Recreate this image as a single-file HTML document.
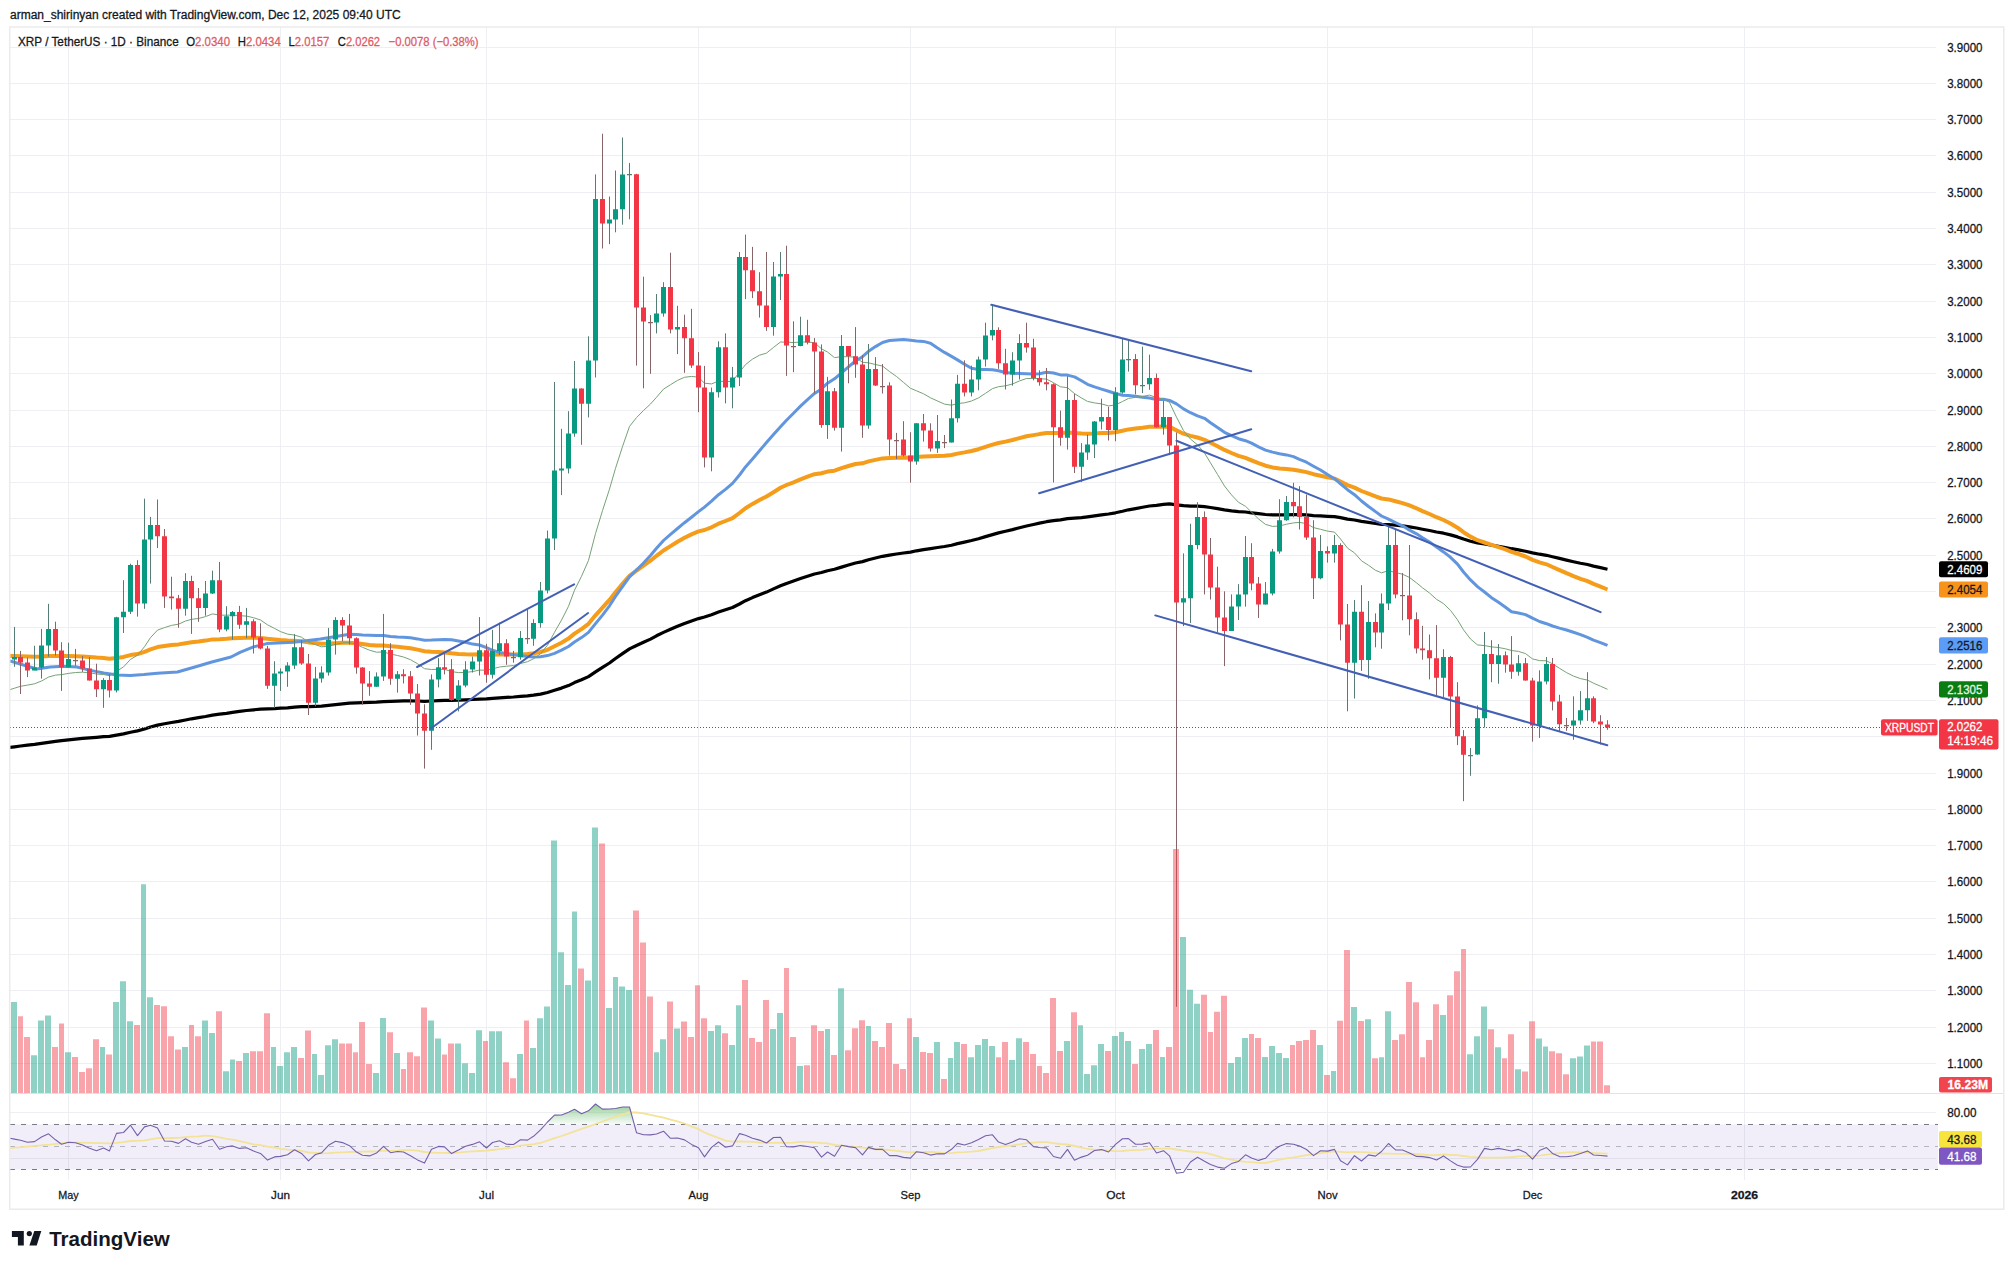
<!DOCTYPE html>
<html><head><meta charset="utf-8"><style>
html,body{margin:0;padding:0;background:#fff;}
body{width:2014px;height:1269px;overflow:hidden;font-family:"Liberation Sans",sans-serif;}
svg{display:block;}
</style></head><body>
<svg width="2014" height="1269" viewBox="0 0 2014 1269" font-family="Liberation Sans, sans-serif">
<defs><clipPath id="plot"><rect x="10" y="27" width="1926" height="1066"/></clipPath><clipPath id="rsiclip"><rect x="10" y="1094" width="1926" height="86"/></clipPath><linearGradient id="ob" x1="0" y1="1100" x2="0" y2="1124.5" gradientUnits="userSpaceOnUse"><stop offset="0" stop-color="#7cc47f" stop-opacity="0.95"/><stop offset="1" stop-color="#7cc47f" stop-opacity="0.05"/></linearGradient></defs>
<rect width="2014" height="1269" fill="#ffffff"/>
<text x="10" y="18.8" font-size="12" fill="#131722" stroke="#131722" stroke-width="0.28">arman_shirinyan created with TradingView.com, Dec 12, 2025 09:40 UTC</text>
<path d="M10 47.5H1936 M10 83.5H1936 M10 119.5H1936 M10 155.5H1936 M10 192.5H1936 M10 228.5H1936 M10 264.5H1936 M10 301.5H1936 M10 337.5H1936 M10 373.5H1936 M10 410.5H1936 M10 446.5H1936 M10 482.5H1936 M10 518.5H1936 M10 555.5H1936 M10 591.5H1936 M10 627.5H1936 M10 664.5H1936 M10 700.5H1936 M10 736.5H1936 M10 773.5H1936 M10 809.5H1936 M10 845.5H1936 M10 881.5H1936 M10 918.5H1936 M10 954.5H1936 M10 990.5H1936 M10 1027.5H1936 M10 1063.5H1936 M10 1112.5H1936 M10 1158.5H1936 M68.5 26.5V1180 M280.5 26.5V1180 M486.5 26.5V1180 M698.5 26.5V1180 M910.5 26.5V1180 M1115.5 26.5V1180 M1327.5 26.5V1180 M1532.5 26.5V1180 M1744.5 26.5V1180" stroke="#eeeff2" stroke-width="1" fill="none"/>
<text x="1947.2" y="51.5" font-size="12.6" fill="#131722" stroke="#131722" stroke-width="0.28" textLength="35.3" lengthAdjust="spacingAndGlyphs">3.9000</text>
<text x="1947.2" y="87.5" font-size="12.6" fill="#131722" stroke="#131722" stroke-width="0.28" textLength="35.3" lengthAdjust="spacingAndGlyphs">3.8000</text>
<text x="1947.2" y="123.5" font-size="12.6" fill="#131722" stroke="#131722" stroke-width="0.28" textLength="35.3" lengthAdjust="spacingAndGlyphs">3.7000</text>
<text x="1947.2" y="159.5" font-size="12.6" fill="#131722" stroke="#131722" stroke-width="0.28" textLength="35.3" lengthAdjust="spacingAndGlyphs">3.6000</text>
<text x="1947.2" y="196.5" font-size="12.6" fill="#131722" stroke="#131722" stroke-width="0.28" textLength="35.3" lengthAdjust="spacingAndGlyphs">3.5000</text>
<text x="1947.2" y="232.5" font-size="12.6" fill="#131722" stroke="#131722" stroke-width="0.28" textLength="35.3" lengthAdjust="spacingAndGlyphs">3.4000</text>
<text x="1947.2" y="268.5" font-size="12.6" fill="#131722" stroke="#131722" stroke-width="0.28" textLength="35.3" lengthAdjust="spacingAndGlyphs">3.3000</text>
<text x="1947.2" y="305.5" font-size="12.6" fill="#131722" stroke="#131722" stroke-width="0.28" textLength="35.3" lengthAdjust="spacingAndGlyphs">3.2000</text>
<text x="1947.2" y="341.5" font-size="12.6" fill="#131722" stroke="#131722" stroke-width="0.28" textLength="35.3" lengthAdjust="spacingAndGlyphs">3.1000</text>
<text x="1947.2" y="377.5" font-size="12.6" fill="#131722" stroke="#131722" stroke-width="0.28" textLength="35.3" lengthAdjust="spacingAndGlyphs">3.0000</text>
<text x="1947.2" y="414.5" font-size="12.6" fill="#131722" stroke="#131722" stroke-width="0.28" textLength="35.3" lengthAdjust="spacingAndGlyphs">2.9000</text>
<text x="1947.2" y="450.5" font-size="12.6" fill="#131722" stroke="#131722" stroke-width="0.28" textLength="35.3" lengthAdjust="spacingAndGlyphs">2.8000</text>
<text x="1947.2" y="486.5" font-size="12.6" fill="#131722" stroke="#131722" stroke-width="0.28" textLength="35.3" lengthAdjust="spacingAndGlyphs">2.7000</text>
<text x="1947.2" y="522.5" font-size="12.6" fill="#131722" stroke="#131722" stroke-width="0.28" textLength="35.3" lengthAdjust="spacingAndGlyphs">2.6000</text>
<text x="1947.2" y="559.5" font-size="12.6" fill="#131722" stroke="#131722" stroke-width="0.28" textLength="35.3" lengthAdjust="spacingAndGlyphs">2.5000</text>
<text x="1947.2" y="595.5" font-size="12.6" fill="#131722" stroke="#131722" stroke-width="0.28" textLength="35.3" lengthAdjust="spacingAndGlyphs">2.4000</text>
<text x="1947.2" y="631.5" font-size="12.6" fill="#131722" stroke="#131722" stroke-width="0.28" textLength="35.3" lengthAdjust="spacingAndGlyphs">2.3000</text>
<text x="1947.2" y="668.5" font-size="12.6" fill="#131722" stroke="#131722" stroke-width="0.28" textLength="35.3" lengthAdjust="spacingAndGlyphs">2.2000</text>
<text x="1947.2" y="704.5" font-size="12.6" fill="#131722" stroke="#131722" stroke-width="0.28" textLength="35.3" lengthAdjust="spacingAndGlyphs">2.1000</text>
<text x="1947.2" y="740.5" font-size="12.6" fill="#131722" stroke="#131722" stroke-width="0.28" textLength="35.3" lengthAdjust="spacingAndGlyphs">2.0000</text>
<text x="1947.2" y="777.5" font-size="12.6" fill="#131722" stroke="#131722" stroke-width="0.28" textLength="35.3" lengthAdjust="spacingAndGlyphs">1.9000</text>
<text x="1947.2" y="813.5" font-size="12.6" fill="#131722" stroke="#131722" stroke-width="0.28" textLength="35.3" lengthAdjust="spacingAndGlyphs">1.8000</text>
<text x="1947.2" y="849.5" font-size="12.6" fill="#131722" stroke="#131722" stroke-width="0.28" textLength="35.3" lengthAdjust="spacingAndGlyphs">1.7000</text>
<text x="1947.2" y="885.5" font-size="12.6" fill="#131722" stroke="#131722" stroke-width="0.28" textLength="35.3" lengthAdjust="spacingAndGlyphs">1.6000</text>
<text x="1947.2" y="922.5" font-size="12.6" fill="#131722" stroke="#131722" stroke-width="0.28" textLength="35.3" lengthAdjust="spacingAndGlyphs">1.5000</text>
<text x="1947.2" y="958.5" font-size="12.6" fill="#131722" stroke="#131722" stroke-width="0.28" textLength="35.3" lengthAdjust="spacingAndGlyphs">1.4000</text>
<text x="1947.2" y="994.5" font-size="12.6" fill="#131722" stroke="#131722" stroke-width="0.28" textLength="35.3" lengthAdjust="spacingAndGlyphs">1.3000</text>
<text x="1947.2" y="1031.5" font-size="12.6" fill="#131722" stroke="#131722" stroke-width="0.28" textLength="35.3" lengthAdjust="spacingAndGlyphs">1.2000</text>
<text x="1947.2" y="1067.5" font-size="12.6" fill="#131722" stroke="#131722" stroke-width="0.28" textLength="35.3" lengthAdjust="spacingAndGlyphs">1.1000</text>
<rect x="10" y="1124.5" width="1928" height="45" fill="rgba(126,87,194,0.1)"/>
<path d="M10 1124.5H1938M10 1169.5H1938" stroke="#787b86" stroke-width="1" stroke-dasharray="5 6" fill="none"/>
<path d="M10 1146.5H1938" stroke="#b4b6bd" stroke-width="1" stroke-dasharray="5 6" fill="none"/>
<text x="1947.2" y="1117" font-size="12.2" fill="#131722" stroke="#131722" stroke-width="0.28" textLength="29.2" lengthAdjust="spacingAndGlyphs">80.00</text>
<path d="M11 1002.1H17V1093H11ZM31 1055.3H37V1093H31ZM38 1020.4H44V1093H38ZM45 1015.4H51V1093H45ZM65 1052.3H71V1093H65ZM100 1047.0H105V1093H100ZM113 1002.1H119V1093H113ZM120 981.3H126V1093H120ZM127 1021.2H133V1093H127ZM141 884.2H146V1093H141ZM147 997.3H153V1093H147ZM182 1047.0H188V1093H182ZM202 1020.4H208V1093H202ZM209 1033.1H215V1093H209ZM223 1071.2H229V1093H223ZM230 1059.4H235V1093H230ZM243 1053.0H249V1093H243ZM271 1047.0H276V1093H271ZM277 1065.9H283V1093H277ZM284 1052.3H290V1093H284ZM291 1047.0H297V1093H291ZM312 1054.0H317V1093H312ZM318 1075.1H324V1093H318ZM325 1045.2H331V1093H325ZM332 1039.3H338V1093H332ZM373 1073.0H379V1093H373ZM380 1018.0H386V1093H380ZM394 1053.0H400V1093H394ZM428 1020.4H434V1093H428ZM435 1038.4H441V1093H435ZM455 1043.4H461V1093H455ZM462 1063.2H468V1093H462ZM469 1073.1H475V1093H469ZM476 1030.2H482V1093H476ZM489 1031.3H495V1093H489ZM496 1031.3H502V1093H496ZM517 1054.1H523V1093H517ZM530 1048.0H536V1093H530ZM537 1018.3H543V1093H537ZM544 1006.4H550V1093H544ZM551 840.6H557V1093H551ZM558 952.2H564V1093H558ZM565 985.1H571V1093H565ZM572 911.5H577V1093H572ZM585 980.4H591V1093H585ZM592 827.6H598V1093H592ZM606 1008.1H612V1093H606ZM613 977.1H618V1093H613ZM619 986.4H625V1093H619ZM626 990.1H632V1093H626ZM654 1052.3H659V1093H654ZM660 1039.3H666V1093H660ZM674 1028.5H680V1093H674ZM708 1031.1H714V1093H708ZM715 1025.2H721V1093H715ZM729 1045.1H735V1093H729ZM736 1005.2H741V1093H736ZM770 1029.1H776V1093H770ZM777 1013.1H783V1093H777ZM797 1066.0H803V1093H797ZM825 1029.1H830V1093H825ZM838 988.3H844V1093H838ZM866 1026.0H871V1093H866ZM913 1037.1H919V1093H913ZM934 1042.0H940V1093H934ZM948 1058.0H953V1093H948ZM954 1042.0H960V1093H954ZM968 1057.2H974V1093H968ZM975 1045.1H981V1093H975ZM982 1039.1H988V1093H982ZM989 1046.0H995V1093H989ZM1009 1059.9H1015V1093H1009ZM1016 1038.2H1022V1093H1016ZM1064 1041.1H1070V1093H1064ZM1078 1025.2H1083V1093H1078ZM1084 1074.0H1090V1093H1084ZM1091 1065.2H1097V1093H1091ZM1098 1043.9H1104V1093H1098ZM1112 1035.9H1118V1093H1112ZM1119 1032.0H1124V1093H1119ZM1125 1041.1H1131V1093H1125ZM1139 1049.0H1145V1093H1139ZM1146 1043.9H1152V1093H1146ZM1160 1057.0H1165V1093H1160ZM1180 937.0H1186V1093H1180ZM1187 989.7H1193V1093H1187ZM1194 1003.8H1200V1093H1194ZM1228 1063.0H1234V1093H1228ZM1235 1057.0H1241V1093H1235ZM1242 1037.9H1248V1093H1242ZM1262 1057.0H1268V1093H1262ZM1269 1045.9H1275V1093H1269ZM1276 1053.0H1282V1093H1276ZM1283 1058.0H1289V1093H1283ZM1317 1044.9H1323V1093H1317ZM1331 1071.1H1336V1093H1331ZM1351 1007.1H1357V1093H1351ZM1365 1019.2H1371V1093H1365ZM1379 1057.2H1384V1093H1379ZM1385 1011.2H1391V1093H1385ZM1440 1015.1H1446V1093H1440ZM1467 1054.3H1473V1093H1467ZM1474 1036.2H1480V1093H1474ZM1481 1006.5H1487V1093H1481ZM1495 1047.3H1501V1093H1495ZM1515 1069.3H1521V1093H1515ZM1536 1038.4H1542V1093H1536ZM1543 1046.4H1548V1093H1543ZM1570 1058.2H1576V1093H1570ZM1577 1056.5H1583V1093H1577ZM1584 1045.4H1590V1093H1584Z" fill="rgba(8,153,129,0.45)"/>
<path d="M18 1016.3H23V1093H18ZM24 1037.0H30V1093H24ZM52 1047.0H58V1093H52ZM59 1023.4H64V1093H59ZM72 1057.1H78V1093H72ZM79 1072.1H85V1093H79ZM86 1068.2H92V1093H86ZM93 1039.3H99V1093H93ZM106 1054.4H112V1093H106ZM134 1025.1H140V1093H134ZM154 1005.1H160V1093H154ZM161 1006.2H167V1093H161ZM168 1036.3H174V1093H168ZM175 1049.4H181V1093H175ZM189 1025.1H194V1093H189ZM195 1036.3H201V1093H195ZM216 1011.3H222V1093H216ZM236 1061.1H242V1093H236ZM250 1051.2H256V1093H250ZM257 1051.2H263V1093H257ZM264 1013.3H270V1093H264ZM298 1057.9H304V1093H298ZM305 1030.5H311V1093H305ZM339 1043.4H345V1093H339ZM346 1043.4H352V1093H346ZM353 1052.3H358V1093H353ZM359 1022.1H365V1093H359ZM366 1064.1H372V1093H366ZM387 1032.2H393V1093H387ZM401 1068.9H406V1093H401ZM407 1052.3H413V1093H407ZM414 1056.2H420V1093H414ZM421 1007.4H427V1093H421ZM442 1054.4H447V1093H442ZM448 1043.4H454V1093H448ZM483 1041.1H488V1093H483ZM503 1062.3H509V1093H503ZM510 1078.3H516V1093H510ZM524 1020.5H529V1093H524ZM578 968.5H584V1093H578ZM599 843.4H605V1093H599ZM633 910.6H639V1093H633ZM640 942.5H646V1093H640ZM647 996.6H653V1093H647ZM667 1001.6H673V1093H667ZM681 1021.6H687V1093H681ZM688 1037.1H694V1093H688ZM695 985.2H700V1093H695ZM701 1018.2H707V1093H701ZM722 1033.2H728V1093H722ZM742 980.1H748V1093H742ZM749 1038.0H755V1093H749ZM756 1042.0H762V1093H756ZM763 1000.0H769V1093H763ZM784 968.1H789V1093H784ZM790 1037.1H796V1093H790ZM804 1065.2H810V1093H804ZM811 1025.2H817V1093H811ZM818 1031.1H824V1093H818ZM831 1055.1H837V1093H831ZM845 1050.2H851V1093H845ZM852 1028.3H858V1093H852ZM859 1020.3H865V1093H859ZM872 1041.1H878V1093H872ZM879 1047.1H885V1093H879ZM886 1023.1H892V1093H886ZM893 1064.0H899V1093H893ZM900 1069.1H906V1093H900ZM907 1018.2H912V1093H907ZM920 1052.0H926V1093H920ZM927 1053.1H933V1093H927ZM941 1079.1H947V1093H941ZM961 1043.9H967V1093H961ZM996 1057.2H1001V1093H996ZM1002 1042.0H1008V1093H1002ZM1023 1042.0H1029V1093H1023ZM1030 1054.0H1036V1093H1030ZM1037 1066.0H1042V1093H1037ZM1043 1073.1H1049V1093H1043ZM1050 998.0H1056V1093H1050ZM1057 1051.1H1063V1093H1057ZM1071 1012.3H1077V1093H1071ZM1105 1051.1H1111V1093H1105ZM1132 1064.0H1138V1093H1132ZM1153 1029.9H1159V1093H1153ZM1166 1047.0H1172V1093H1166ZM1173 849.0H1179V1093H1173ZM1201 994.7H1207V1093H1201ZM1208 1031.9H1213V1093H1208ZM1214 1011.8H1220V1093H1214ZM1221 995.7H1227V1093H1221ZM1249 1033.9H1254V1093H1249ZM1255 1037.9H1261V1093H1255ZM1290 1044.9H1295V1093H1290ZM1296 1040.9H1302V1093H1296ZM1303 1039.9H1309V1093H1303ZM1310 1029.9H1316V1093H1310ZM1324 1075.1H1330V1093H1324ZM1337 1020.8H1343V1093H1337ZM1344 950.1H1350V1093H1344ZM1358 1021.1H1364V1093H1358ZM1372 1058.2H1378V1093H1372ZM1392 1040.1H1398V1093H1392ZM1399 1034.3H1405V1093H1399ZM1406 982.1H1412V1093H1406ZM1413 1002.3H1419V1093H1413ZM1420 1057.2H1425V1093H1420ZM1426 1040.1H1432V1093H1426ZM1433 1004.2H1439V1093H1433ZM1447 995.3H1453V1093H1447ZM1454 971.3H1460V1093H1454ZM1461 949.0H1466V1093H1461ZM1488 1029.3H1494V1093H1488ZM1502 1058.2H1507V1093H1502ZM1508 1034.3H1514V1093H1508ZM1522 1071.4H1528V1093H1522ZM1529 1021.3H1535V1093H1529ZM1549 1051.2H1555V1093H1549ZM1556 1053.3H1562V1093H1556ZM1563 1074.2H1569V1093H1563ZM1591 1041.5H1596V1093H1591ZM1597 1041.5H1603V1093H1597ZM1604 1085.3H1610V1093H1604Z" fill="rgba(242,54,69,0.45)"/>
<path d="M10 1093.5H2003.5" stroke="#e0e3eb" stroke-width="1"/>
<g clip-path="url(#plot)">
<path d="M10.0 747.4 L14.5 746.8 L20.5 746.0 L27.5 745.2 L34.5 744.4 L41.5 743.4 L48.5 742.3 L55.5 741.4 L61.5 740.7 L68.5 739.8 L75.5 739.1 L82.5 738.4 L89.5 737.8 L96.5 737.3 L103.5 736.7 L109.5 736.3 L116.5 735.1 L123.5 733.9 L130.5 732.2 L137.5 730.9 L144.5 729.0 L150.5 727.0 L157.5 725.1 L164.5 723.8 L171.5 722.5 L178.5 721.4 L185.5 720.0 L191.5 718.8 L198.5 717.7 L205.5 716.5 L212.5 715.1 L219.5 714.2 L226.5 713.3 L232.5 712.3 L239.5 711.4 L246.5 710.5 L253.5 709.8 L260.5 709.2 L267.5 708.9 L274.5 708.6 L280.5 708.2 L287.5 707.8 L294.5 707.2 L301.5 706.7 L308.5 706.7 L315.5 706.4 L321.5 706.1 L328.5 705.4 L335.5 704.6 L342.5 703.8 L349.5 703.1 L356.5 702.8 L362.5 702.6 L369.5 702.4 L376.5 702.2 L383.5 701.7 L390.5 701.4 L397.5 701.2 L403.5 700.9 L410.5 700.8 L417.5 701.0 L424.5 701.3 L431.5 701.0 L438.5 700.7 L444.5 700.4 L451.5 700.4 L458.5 700.2 L465.5 699.9 L472.5 699.5 L479.5 699.1 L486.5 698.8 L492.5 698.3 L499.5 697.8 L506.5 697.4 L513.5 697.0 L520.5 696.4 L527.5 695.8 L533.5 695.1 L540.5 694.1 L547.5 692.5 L554.5 690.3 L561.5 688.1 L568.5 685.6 L574.5 682.6 L581.5 679.8 L588.5 676.6 L595.5 671.9 L602.5 667.4 L609.5 663.0 L615.5 658.5 L622.5 653.6 L629.5 648.9 L636.5 645.5 L643.5 642.3 L650.5 639.1 L656.5 635.8 L663.5 632.4 L670.5 629.3 L677.5 626.3 L684.5 623.5 L691.5 620.9 L698.5 618.6 L704.5 617.0 L711.5 614.7 L718.5 612.1 L725.5 609.8 L732.5 607.5 L739.5 604.0 L745.5 600.7 L752.5 597.6 L759.5 594.7 L766.5 592.1 L773.5 588.9 L780.5 585.8 L786.5 583.4 L793.5 581.0 L800.5 578.6 L807.5 576.3 L814.5 574.0 L821.5 572.5 L827.5 570.7 L834.5 569.3 L841.5 567.1 L848.5 565.0 L855.5 563.0 L862.5 561.6 L868.5 559.7 L875.5 558.0 L882.5 556.3 L889.5 555.1 L896.5 554.0 L903.5 553.0 L910.5 552.1 L916.5 550.8 L923.5 549.6 L930.5 548.6 L937.5 547.5 L944.5 546.5 L951.5 545.2 L957.5 543.6 L964.5 542.1 L971.5 540.5 L978.5 538.7 L985.5 536.6 L992.5 534.6 L998.5 532.9 L1005.5 531.3 L1012.5 529.6 L1019.5 527.7 L1026.5 526.0 L1033.5 524.5 L1039.5 523.1 L1046.5 521.7 L1053.5 520.7 L1060.5 519.9 L1067.5 518.7 L1074.5 518.2 L1081.5 517.6 L1087.5 516.8 L1094.5 515.9 L1101.5 514.9 L1108.5 514.0 L1115.5 512.8 L1122.5 511.3 L1128.5 509.8 L1135.5 508.6 L1142.5 507.3 L1149.5 506.0 L1156.5 505.3 L1163.5 504.4 L1169.5 503.8 L1176.5 504.8 L1183.5 505.7 L1190.5 506.1 L1197.5 506.2 L1204.5 506.7 L1210.5 507.5 L1217.5 508.6 L1224.5 509.8 L1231.5 510.8 L1238.5 511.6 L1245.5 512.0 L1251.5 512.8 L1258.5 513.7 L1265.5 514.5 L1272.5 514.8 L1279.5 514.9 L1286.5 514.8 L1293.5 514.7 L1299.5 514.7 L1306.5 514.9 L1313.5 515.6 L1320.5 515.9 L1327.5 516.3 L1334.5 516.6 L1340.5 517.6 L1347.5 519.1 L1354.5 520.0 L1361.5 521.4 L1368.5 522.4 L1375.5 523.5 L1381.5 524.3 L1388.5 524.5 L1395.5 525.2 L1402.5 525.9 L1409.5 526.8 L1416.5 528.0 L1422.5 529.2 L1429.5 530.5 L1436.5 532.0 L1443.5 533.2 L1450.5 534.9 L1457.5 536.9 L1463.5 539.0 L1470.5 541.2 L1477.5 542.9 L1484.5 544.0 L1491.5 545.2 L1498.5 546.3 L1505.5 547.5 L1511.5 548.7 L1518.5 549.9 L1525.5 551.2 L1532.5 552.9 L1539.5 554.2 L1546.5 555.3 L1552.5 556.7 L1559.5 558.4 L1566.5 560.1 L1573.5 561.7 L1580.5 563.2 L1587.5 564.5 L1593.5 566.1 L1600.5 567.6 L1607.5 569.2" stroke="#000000" stroke-width="3.2" fill="none" stroke-linejoin="round"/>
<path d="M10.0 656.0 L14.5 656.1 L20.5 656.2 L27.5 656.5 L34.5 656.7 L41.5 656.5 L48.5 656.0 L55.5 655.9 L61.5 656.1 L68.5 656.1 L75.5 656.2 L82.5 656.5 L89.5 657.0 L96.5 657.6 L103.5 658.0 L109.5 658.7 L116.5 657.9 L123.5 656.9 L130.5 655.1 L137.5 654.1 L144.5 651.8 L150.5 649.3 L157.5 647.1 L164.5 646.1 L171.5 645.1 L178.5 644.4 L185.5 643.2 L191.5 642.3 L198.5 641.6 L205.5 640.6 L212.5 639.4 L219.5 639.2 L226.5 638.8 L232.5 638.3 L239.5 638.0 L246.5 637.7 L253.5 637.7 L260.5 637.9 L267.5 638.8 L274.5 639.5 L280.5 640.1 L287.5 640.6 L294.5 640.8 L301.5 641.2 L308.5 642.4 L315.5 643.1 L321.5 643.7 L328.5 643.6 L335.5 643.2 L342.5 642.8 L349.5 642.7 L356.5 643.2 L362.5 644.0 L369.5 644.9 L376.5 645.5 L383.5 645.6 L390.5 646.2 L397.5 646.8 L403.5 647.4 L410.5 648.3 L417.5 649.6 L424.5 651.2 L431.5 651.8 L438.5 652.1 L444.5 652.4 L451.5 653.3 L458.5 654.0 L465.5 654.3 L472.5 654.4 L479.5 654.3 L486.5 654.7 L492.5 654.7 L499.5 654.4 L506.5 654.5 L513.5 654.5 L520.5 654.2 L527.5 653.9 L533.5 653.3 L540.5 652.0 L547.5 649.8 L554.5 646.2 L561.5 642.7 L568.5 638.6 L574.5 633.6 L581.5 629.1 L588.5 623.8 L595.5 615.3 L602.5 607.6 L609.5 599.9 L615.5 592.2 L622.5 583.9 L629.5 575.8 L636.5 570.5 L643.5 565.5 L650.5 560.7 L656.5 555.8 L663.5 550.5 L670.5 546.1 L677.5 541.8 L684.5 537.8 L691.5 534.4 L698.5 531.4 L704.5 530.0 L711.5 527.3 L718.5 523.7 L725.5 521.0 L732.5 518.2 L739.5 513.0 L745.5 508.2 L752.5 503.9 L759.5 500.0 L766.5 496.5 L773.5 492.2 L780.5 487.8 L786.5 485.0 L793.5 482.3 L800.5 479.4 L807.5 476.7 L814.5 474.2 L821.5 473.2 L827.5 471.6 L834.5 470.7 L841.5 468.2 L848.5 466.0 L855.5 464.0 L862.5 463.3 L868.5 461.4 L875.5 459.9 L882.5 458.4 L889.5 458.0 L896.5 457.7 L903.5 457.6 L910.5 457.7 L916.5 457.0 L923.5 456.5 L930.5 456.3 L937.5 456.0 L944.5 455.8 L951.5 455.0 L957.5 453.6 L964.5 452.4 L971.5 451.0 L978.5 449.2 L985.5 446.9 L992.5 444.6 L998.5 443.0 L1005.5 441.6 L1012.5 440.0 L1019.5 438.1 L1026.5 436.3 L1033.5 435.1 L1039.5 434.1 L1046.5 433.1 L1053.5 433.0 L1060.5 433.1 L1067.5 432.4 L1074.5 433.1 L1081.5 433.5 L1087.5 433.7 L1094.5 433.5 L1101.5 433.1 L1108.5 433.1 L1115.5 432.3 L1122.5 430.8 L1128.5 429.4 L1135.5 428.5 L1142.5 427.7 L1149.5 426.7 L1156.5 426.7 L1163.5 426.5 L1169.5 426.9 L1176.5 430.4 L1183.5 433.7 L1190.5 435.9 L1197.5 437.5 L1204.5 439.8 L1210.5 442.7 L1217.5 446.2 L1224.5 449.9 L1231.5 453.0 L1238.5 455.8 L1245.5 457.8 L1251.5 460.3 L1258.5 463.1 L1265.5 465.7 L1272.5 467.4 L1279.5 468.4 L1286.5 469.1 L1293.5 469.8 L1299.5 470.8 L1306.5 472.1 L1313.5 474.2 L1320.5 475.7 L1327.5 477.3 L1334.5 478.6 L1340.5 481.5 L1347.5 485.1 L1354.5 487.6 L1361.5 491.0 L1368.5 493.6 L1375.5 496.3 L1381.5 498.5 L1388.5 499.4 L1395.5 501.3 L1402.5 503.1 L1409.5 505.4 L1416.5 508.3 L1422.5 511.1 L1429.5 514.0 L1436.5 517.2 L1443.5 520.0 L1450.5 523.5 L1457.5 527.7 L1463.5 532.2 L1470.5 536.6 L1477.5 540.2 L1484.5 542.5 L1491.5 544.9 L1498.5 547.1 L1505.5 549.4 L1511.5 551.8 L1518.5 554.0 L1525.5 556.5 L1532.5 559.9 L1539.5 562.3 L1546.5 564.3 L1552.5 567.0 L1559.5 570.1 L1566.5 573.2 L1573.5 576.1 L1580.5 578.8 L1587.5 581.1 L1593.5 583.9 L1600.5 586.7 L1607.5 589.5" stroke="#f59d1a" stroke-width="4" fill="none" stroke-linejoin="round"/>
<path d="M10.0 661.0 L23.4 665.0 L36.8 669.0 L50.2 667.0 L63.6 666.3 L77.0 667.0 L90.4 670.4 L103.8 673.0 L117.2 675.1 L130.5 675.5 L143.9 674.6 L157.3 673.3 L177.4 672.0 L197.5 666.3 L210.9 662.3 L231.0 657.0 L240.0 652.3 L253.4 646.9 L266.8 643.6 L293.6 642.2 L320.4 638.9 L349.5 634.3 L356.5 634.5 L362.5 634.9 L369.5 635.2 L376.5 635.4 L383.5 635.5 L390.5 636.5 L397.5 637.0 L403.5 637.2 L410.5 637.8 L417.5 638.9 L424.5 640.2 L431.5 640.1 L438.5 639.7 L444.5 639.5 L451.5 639.7 L458.5 641.0 L465.5 642.2 L472.5 644.1 L479.5 645.0 L486.5 647.7 L492.5 650.3 L499.5 652.4 L506.5 653.6 L513.5 654.8 L520.5 655.4 L527.5 656.5 L533.5 657.0 L540.5 656.7 L547.5 655.6 L554.5 653.4 L561.5 650.2 L568.5 646.5 L574.5 642.0 L581.5 637.6 L588.5 632.4 L595.5 623.6 L602.5 615.1 L609.5 605.8 L615.5 596.5 L622.5 586.6 L629.5 576.8 L636.5 570.0 L643.5 563.1 L650.5 555.5 L656.5 548.2 L663.5 540.5 L670.5 534.3 L677.5 528.5 L684.5 522.7 L691.5 517.3 L698.5 511.7 L704.5 507.1 L711.5 501.2 L718.5 494.7 L725.5 489.4 L732.5 483.4 L739.5 475.0 L745.5 466.9 L752.5 458.9 L759.5 450.7 L766.5 442.6 L773.5 434.6 L780.5 426.7 L786.5 420.2 L793.5 413.2 L800.5 406.1 L807.5 399.6 L814.5 393.4 L821.5 388.9 L827.5 383.2 L834.5 378.8 L841.5 372.8 L848.5 366.8 L855.5 361.0 L862.5 356.7 L868.5 351.3 L875.5 346.6 L882.5 342.5 L889.5 340.5 L896.5 339.9 L903.5 339.6 L910.5 340.2 L916.5 340.9 L923.5 341.4 L930.5 343.2 L937.5 348.0 L944.5 352.4 L951.5 356.4 L957.5 359.9 L964.5 364.2 L971.5 368.3 L978.5 369.4 L985.5 369.6 L992.5 369.8 L998.5 370.8 L1005.5 372.5 L1012.5 373.2 L1019.5 373.5 L1026.5 373.7 L1033.5 373.9 L1039.5 373.8 L1046.5 372.3 L1053.5 373.0 L1060.5 374.9 L1067.5 375.1 L1074.5 376.9 L1081.5 380.8 L1087.5 384.3 L1094.5 386.9 L1101.5 389.1 L1108.5 391.2 L1115.5 393.5 L1122.5 395.2 L1128.5 395.5 L1135.5 396.3 L1142.5 397.2 L1149.5 398.0 L1156.5 399.5 L1163.5 399.3 L1169.5 400.4 L1176.5 403.9 L1183.5 408.9 L1190.5 412.7 L1197.5 415.8 L1204.5 418.3 L1210.5 422.7 L1217.5 427.4 L1224.5 432.3 L1231.5 435.6 L1238.5 438.7 L1245.5 440.7 L1251.5 443.2 L1258.5 446.8 L1265.5 450.1 L1272.5 452.1 L1279.5 453.7 L1286.5 454.9 L1293.5 456.6 L1299.5 459.3 L1306.5 462.2 L1313.5 466.2 L1320.5 470.0 L1327.5 474.4 L1334.5 478.7 L1340.5 483.9 L1347.5 489.7 L1354.5 494.7 L1361.5 501.0 L1368.5 506.5 L1375.5 511.6 L1381.5 516.0 L1388.5 519.2 L1395.5 522.6 L1402.5 525.8 L1409.5 530.1 L1416.5 533.8 L1422.5 537.7 L1429.5 542.0 L1436.5 547.1 L1443.5 551.9 L1450.5 557.3 L1457.5 564.1 L1463.5 572.0 L1470.5 579.9 L1477.5 586.6 L1484.5 592.0 L1491.5 597.7 L1498.5 602.3 L1505.5 607.2 L1511.5 611.8 L1518.5 613.0 L1525.5 614.6 L1532.5 618.2 L1539.5 621.5 L1546.5 623.7 L1552.5 626.0 L1559.5 628.1 L1566.5 630.0 L1573.5 632.3 L1580.5 634.6 L1587.5 637.4 L1593.5 640.2 L1600.5 642.6 L1607.5 645.3" stroke="#6196df" stroke-width="3" fill="none" stroke-linejoin="round"/>
<path d="M10.0 689.6 L14.5 688.2 L20.5 686.3 L27.5 685.1 L34.5 683.8 L41.5 681.0 L48.5 677.1 L55.5 675.1 L61.5 674.6 L68.5 673.4 L75.5 672.5 L82.5 672.2 L89.5 672.8 L96.5 674.0 L103.5 674.5 L109.5 675.7 L116.5 671.3 L123.5 666.9 L130.5 659.4 L137.5 655.2 L144.5 646.7 L150.5 637.6 L157.5 630.1 L164.5 627.6 L171.5 625.4 L178.5 624.2 L185.5 621.0 L191.5 619.3 L198.5 618.5 L205.5 616.6 L212.5 613.9 L219.5 615.1 L226.5 615.2 L232.5 615.0 L239.5 615.7 L246.5 616.1 L253.5 617.7 L260.5 620.0 L267.5 624.8 L274.5 628.4 L280.5 631.6 L287.5 634.1 L294.5 635.1 L301.5 637.2 L308.5 642.1 L315.5 644.7 L321.5 646.8 L328.5 646.3 L335.5 644.3 L342.5 642.9 L349.5 642.6 L356.5 644.4 L362.5 647.3 L369.5 650.2 L376.5 652.2 L383.5 652.0 L390.5 654.0 L397.5 655.5 L403.5 657.0 L410.5 659.7 L417.5 663.7 L424.5 668.7 L431.5 669.5 L438.5 669.3 L444.5 669.3 L451.5 671.6 L458.5 672.6 L465.5 672.4 L472.5 671.6 L479.5 670.0 L486.5 670.3 L492.5 668.9 L499.5 667.0 L506.5 666.2 L513.5 665.6 L520.5 663.5 L527.5 661.7 L533.5 658.8 L540.5 653.8 L547.5 645.2 L554.5 632.3 L561.5 620.1 L568.5 606.3 L574.5 590.2 L581.5 576.3 L588.5 560.4 L595.5 533.6 L602.5 510.6 L609.5 489.1 L615.5 468.3 L622.5 446.6 L629.5 426.4 L636.5 417.6 L643.5 410.5 L650.5 404.0 L656.5 397.3 L663.5 389.1 L670.5 384.7 L677.5 380.4 L684.5 377.3 L691.5 376.4 L698.5 377.2 L704.5 383.2 L711.5 383.9 L718.5 381.1 L725.5 381.6 L732.5 381.3 L739.5 372.1 L745.5 364.6 L752.5 359.1 L759.5 355.2 L766.5 353.1 L773.5 347.4 L780.5 342.0 L786.5 342.2 L793.5 342.5 L800.5 342.0 L807.5 342.0 L814.5 342.7 L821.5 348.8 L827.5 352.0 L834.5 357.6 L841.5 356.7 L848.5 356.7 L855.5 357.2 L862.5 362.3 L868.5 362.8 L875.5 364.5 L882.5 366.1 L889.5 371.5 L896.5 376.5 L903.5 382.4 L910.5 388.3 L916.5 390.8 L923.5 393.8 L930.5 397.8 L937.5 401.0 L944.5 404.1 L951.5 405.2 L957.5 403.6 L964.5 402.8 L971.5 401.0 L978.5 397.9 L985.5 393.3 L992.5 388.6 L998.5 386.7 L1005.5 385.8 L1012.5 384.0 L1019.5 380.9 L1026.5 378.5 L1033.5 378.4 L1039.5 378.7 L1046.5 379.1 L1053.5 382.7 L1060.5 386.8 L1067.5 387.7 L1074.5 393.6 L1081.5 398.0 L1087.5 401.4 L1094.5 402.9 L1101.5 403.9 L1108.5 405.9 L1115.5 404.9 L1122.5 401.5 L1128.5 398.4 L1135.5 397.4 L1142.5 396.4 L1149.5 395.1 L1156.5 397.5 L1163.5 398.9 L1169.5 402.4 L1176.5 417.2 L1183.5 430.6 L1190.5 439.1 L1197.5 444.8 L1204.5 453.0 L1210.5 462.9 L1217.5 474.4 L1224.5 486.0 L1231.5 494.9 L1238.5 502.3 L1245.5 506.3 L1251.5 512.1 L1258.5 518.9 L1265.5 524.4 L1272.5 526.4 L1279.5 526.0 L1286.5 524.2 L1293.5 522.9 L1299.5 522.4 L1306.5 523.6 L1313.5 527.6 L1320.5 529.3 L1327.5 531.1 L1334.5 532.1 L1340.5 539.0 L1347.5 548.1 L1354.5 552.9 L1361.5 560.8 L1368.5 565.3 L1375.5 570.3 L1381.5 572.8 L1388.5 570.7 L1395.5 572.5 L1402.5 574.2 L1409.5 577.5 L1416.5 582.8 L1422.5 587.8 L1429.5 593.0 L1436.5 599.3 L1443.5 603.6 L1450.5 610.4 L1457.5 619.8 L1463.5 629.8 L1470.5 639.0 L1477.5 644.9 L1484.5 645.6 L1491.5 646.9 L1498.5 647.5 L1505.5 648.8 L1511.5 650.5 L1518.5 651.4 L1525.5 653.6 L1532.5 658.9 L1539.5 660.6 L1546.5 660.8 L1552.5 663.8 L1559.5 668.3 L1566.5 672.6 L1573.5 676.1 L1580.5 678.6 L1587.5 680.1 L1593.5 683.2 L1600.5 686.2 L1607.5 689.3" stroke="#76a276" stroke-width="1" fill="none" stroke-linejoin="round"/>
<path d="M14.5 626.9V666.8M34.5 645.8V670.4M41.5 628.9V678.6M48.5 603.8V656.6M68.5 642.7V667.3M103.5 678.1V707.8M116.5 616.8V692.4M123.5 580.2V633.0M130.5 563.7V614.0M144.5 498.7V608.8M150.5 516.9V583.6M185.5 573.2V615.7M205.5 581.0V615.7M212.5 570.6V594.0M226.5 606.2V631.3M232.5 611.0V639.7M246.5 607.9V638.2M274.5 661.2V707.8M280.5 668.4V690.9M287.5 662.2V686.8M294.5 634.1V668.9M315.5 666.9V706.3M321.5 666.3V682.7M328.5 627.9V675.6M335.5 617.2V654.6M376.5 672.4V686.7M383.5 613.9V680.9M397.5 671.1V692.6M431.5 674.4V749.8M438.5 658.1V687.4M458.5 680.1V711.4M465.5 661.2V687.3M472.5 656.6V672.5M479.5 617.1V675.5M492.5 629.9V678.6M499.5 622.6V655.0M520.5 631.0V659.7M533.5 619.2V645.8M540.5 581.9V627.7M547.5 530.5V593.4M554.5 382.0V550.0M561.5 428.8V495.1M568.5 411.2V473.4M574.5 361.0V436.8M588.5 336.3V417.4M595.5 174.4V377.5M609.5 196.5V244.2M615.5 170.5V232.3M622.5 137.6V224.7M629.5 162.9V219.3M656.5 294.0V333.4M663.5 282.2V316.7M677.5 305.8V354.1M711.5 387.6V471.3M718.5 341.3V397.5M732.5 366.9V408.3M739.5 251.9V386.1M773.5 262.0V335.7M780.5 251.9V300.0M800.5 316.7V346.3M827.5 376.9V438.9M841.5 335.0V451.6M868.5 344.0V428.8M916.5 423.3V464.7M937.5 415.0V452.9M951.5 399.5V442.5M957.5 374.9V422.5M971.5 365.7V396.4M978.5 356.5V390.3M985.5 322.7V366.5M992.5 304.5V340.3M1012.5 352.2V385.7M1019.5 334.2V379.5M1067.5 376.2V449.6M1081.5 443.1V482.1M1087.5 434.7V459.8M1094.5 421.0V458.1M1101.5 398.7V429.5M1115.5 387.2V441.2M1122.5 338.5V393.7M1128.5 340.1V371.6M1142.5 346.6V393.1M1149.5 354.7V389.8M1163.5 400.9V434.7M1183.5 553.4V626.1M1190.5 523.7V623.1M1197.5 502.2V549.3M1231.5 594.4V630.9M1238.5 584.1V620.0M1245.5 536.0V606.7M1265.5 582.1V604.6M1272.5 548.9V595.4M1279.5 499.2V553.7M1286.5 496.0V520.8M1320.5 535.0V579.3M1334.5 535.0V562.6M1354.5 600.0V698.5M1368.5 601.0V678.8M1381.5 593.5V648.7M1388.5 527.0V610.1M1443.5 649.2V697.1M1470.5 748.1V775.8M1477.5 705.4V754.8M1484.5 632.0V727.5M1498.5 644.0V683.7M1518.5 655.1V675.7M1539.5 670.3V737.9M1546.5 657.0V684.4M1573.5 696.3V739.8M1580.5 691.1V724.6M1587.5 672.2V720.9" stroke="#557d76" stroke-width="1" fill="none"/>
<path d="M12 656.9h5V659.6h-5ZM32 667.5h5V670.4h-5ZM39 645.5h5V667.5h-5ZM46 628.9h5V645.5h-5ZM66 659.1h5V667.3h-5ZM101 680.1h5V689.3h-5ZM114 617.2h5V690.6h-5ZM121 611.8h5V617.2h-5ZM128 564.9h5V611.8h-5ZM142 539.5h5V603.6h-5ZM148 525.0h5V539.5h-5ZM183 581.0h5V608.8h-5ZM203 593.5h5V607.9h-5ZM210 580.2h5V593.5h-5ZM224 616.3h5V629.6h-5ZM230 612.1h5V616.3h-5ZM244 621.3h5V624.7h-5ZM272 673.4h5V685.8h-5ZM278 671.5h5V673.4h-5ZM285 665.5h5V671.5h-5ZM292 647.2h5V665.5h-5ZM313 678.4h5V702.7h-5ZM319 672.4h5V678.4h-5ZM326 639.5h5V672.4h-5ZM333 620.0h5V639.5h-5ZM374 676.5h5V686.7h-5ZM381 650.1h5V676.5h-5ZM395 674.2h5V678.7h-5ZM429 679.5h5V730.7h-5ZM436 667.2h5V679.5h-5ZM456 685.5h5V699.9h-5ZM463 669.4h5V685.5h-5ZM470 661.5h5V669.4h-5ZM477 650.2h5V661.5h-5ZM490 651.0h5V674.8h-5ZM497 643.3h5V651.0h-5ZM518 638.0h5V657.2h-5ZM531 623.0h5V638.7h-5ZM538 590.5h5V623.0h-5ZM545 538.5h5V590.5h-5ZM552 470.4h5V538.5h-5ZM559 468.5h5V470.4h-5ZM566 433.4h5V468.5h-5ZM572 388.4h5V433.4h-5ZM586 360.5h5V403.7h-5ZM593 199.1h5V360.5h-5ZM607 219.5h5V223.6h-5ZM613 209.3h5V219.5h-5ZM620 174.6h5V209.3h-5ZM654 313.4h5V322.6h-5ZM661 287.1h5V313.4h-5ZM675 327.1h5V329.5h-5ZM709 392.2h5V457.5h-5ZM716 347.2h5V392.2h-5ZM730 377.6h5V387.6h-5ZM737 256.9h5V377.6h-5ZM771 276.4h5V326.9h-5ZM778 274.1h5V276.4h-5ZM798 335.2h5V346.0h-5ZM825 391.3h5V425.0h-5ZM839 346.0h5V427.8h-5ZM866 369.0h5V425.6h-5ZM914 423.3h5V461.5h-5ZM935 441.0h5V448.5h-5ZM949 418.3h5V442.4h-5ZM955 383.8h5V418.3h-5ZM969 379.4h5V392.6h-5ZM976 359.4h5V379.4h-5ZM983 335.5h5V359.4h-5ZM990 330.0h5V335.5h-5ZM1010 360.6h5V374.6h-5ZM1017 343.1h5V360.6h-5ZM1065 400.0h5V437.7h-5ZM1079 452.5h5V466.8h-5ZM1085 444.4h5V452.5h-5ZM1092 421.4h5V444.4h-5ZM1099 417.1h5V421.4h-5ZM1113 392.6h5V430.0h-5ZM1120 359.6h5V392.6h-5ZM1147 378.1h5V384.3h-5ZM1161 417.1h5V427.3h-5ZM1181 598.3h5V602.6h-5ZM1188 545.0h5V598.3h-5ZM1195 516.9h5V545.0h-5ZM1229 606.5h5V630.9h-5ZM1236 594.4h5V606.5h-5ZM1243 557.1h5V594.4h-5ZM1263 593.4h5V604.6h-5ZM1270 551.4h5V593.4h-5ZM1277 520.2h5V551.4h-5ZM1284 502.1h5V520.2h-5ZM1318 551.0h5V578.2h-5ZM1332 544.9h5V553.4h-5ZM1352 611.8h5V662.7h-5ZM1366 622.1h5V660.1h-5ZM1379 603.4h5V632.5h-5ZM1386 545.0h5V603.4h-5ZM1441 656.9h5V677.8h-5ZM1475 718.3h5V754.4h-5ZM1482 654.1h5V718.3h-5ZM1496 655.2h5V663.9h-5ZM1516 663.2h5V671.7h-5ZM1537 681.4h5V725.6h-5ZM1544 664.1h5V681.4h-5ZM1571 720.5h5V725.6h-5ZM1578 710.3h5V720.5h-5ZM1585 698.2h5V710.3h-5Z" fill="#089981"/>
<path d="M20.5 650.9V694.0M27.5 657.6V677.1M55.5 621.7V655.5M61.5 642.2V690.9M75.5 648.9V665.8M82.5 656.1V671.9M89.5 657.1V680.6M96.5 663.7V697.0M109.5 674.5V697.5M137.5 560.2V616.6M157.5 499.5V548.1M164.5 529.0V607.9M171.5 576.7V609.6M178.5 594.9V627.8M191.5 575.8V633.9M198.5 588.0V621.8M219.5 561.9V632.2M239.5 605.9V628.9M253.5 619.2V653.5M260.5 623.3V649.4M267.5 645.8V688.9M301.5 640.2V664.8M308.5 654.0V715.0M342.5 617.2V641.2M349.5 613.9V644.5M356.5 637.3V673.7M362.5 667.2V704.9M369.5 671.1V695.8M390.5 643.2V684.8M403.5 669.2V683.5M410.5 671.1V704.9M417.5 684.1V735.5M424.5 704.3V768.6M444.5 652.9V674.4M451.5 659.1V700.6M486.5 643.8V682.7M506.5 639.2V664.8M513.5 650.9V662.7M527.5 608.4V643.8M581.5 388.4V444.8M602.5 133.7V248.5M636.5 173.8V365.6M643.5 276.7V388.3M650.5 315.1V373.8M670.5 252.7V333.4M684.5 314.7V372.8M691.5 308.8V367.9M698.5 352.1V412.2M704.5 365.9V467.4M725.5 333.4V403.4M745.5 234.6V299.1M752.5 246.9V298.1M759.5 272.2V317.6M766.5 251.9V330.9M786.5 245.7V375.9M793.5 321.3V372.2M807.5 319.8V344.4M814.5 338.0V393.5M821.5 344.4V427.8M834.5 388.0V430.6M848.5 346.0V383.3M855.5 327.1V377.8M862.5 355.0V437.8M875.5 357.1V386.0M882.5 364.0V393.6M889.5 382.3V455.7M896.5 432.9V459.1M903.5 421.2V456.4M910.5 432.2V482.6M923.5 414.0V441.6M930.5 423.3V451.6M944.5 435.0V448.1M964.5 360.3V396.4M998.5 327.3V368.8M1005.5 348.8V389.5M1026.5 322.7V352.6M1033.5 338.8V380.3M1039.5 370.3V385.7M1046.5 368.0V390.3M1053.5 383.4V482.5M1060.5 410.6V445.7M1074.5 393.7V473.0M1108.5 406.7V440.5M1135.5 354.1V394.4M1156.5 373.6V427.5M1169.5 417.1V455.1M1176.5 432.5V849.0M1204.5 511.4V594.4M1210.5 538.0V599.5M1217.5 566.7V632.3M1224.5 591.3V666.1M1251.5 543.2V590.3M1258.5 577.0V617.9M1293.5 482.8V517.3M1299.5 486.2V529.5M1306.5 494.6V539.9M1313.5 520.2V599.0M1327.5 546.4V562.6M1340.5 543.3V640.4M1347.5 604.0V711.3M1361.5 585.2V670.9M1375.5 613.4V647.3M1395.5 529.7V598.3M1402.5 573.0V620.3M1409.5 545.0V635.3M1416.5 612.4V653.4M1422.5 625.8V659.7M1429.5 634.5V679.4M1436.5 625.1V695.2M1450.5 655.9V727.5M1457.5 682.2V745.1M1463.5 730.1V801.2M1491.5 640.2V682.2M1505.5 651.5V672.7M1511.5 636.1V678.8M1525.5 658.0V680.7M1532.5 677.8V741.7M1552.5 658.0V710.4M1559.5 694.8V731.3M1566.5 718.0V730.8M1593.5 696.3V723.2M1600.5 715.2V744.5M1607.5 720.2V729.8" stroke="#876468" stroke-width="1" fill="none"/>
<path d="M18 656.9h5V662.5h-5ZM25 662.5h5V670.4h-5ZM53 628.9h5V650.4h-5ZM59 650.4h5V667.3h-5ZM80 660.5h5V668.6h-5ZM87 668.6h5V680.4h-5ZM94 680.4h5V689.3h-5ZM107 680.1h5V690.6h-5ZM135 564.9h5V603.6h-5ZM155 525.0h5V536.2h-5ZM162 536.2h5V596.4h-5ZM169 596.4h5V598.2h-5ZM176 598.2h5V608.8h-5ZM189 581.0h5V598.2h-5ZM196 598.2h5V607.9h-5ZM217 580.2h5V629.6h-5ZM237 612.1h5V624.7h-5ZM251 621.3h5V637.4h-5ZM258 637.4h5V648.5h-5ZM265 648.5h5V685.8h-5ZM299 647.2h5V663.5h-5ZM306 663.5h5V702.7h-5ZM340 620.0h5V625.5h-5ZM347 625.5h5V638.3h-5ZM354 638.3h5V667.4h-5ZM360 667.4h5V683.5h-5ZM367 683.5h5V686.7h-5ZM388 650.1h5V678.7h-5ZM401 674.2h5V676.3h-5ZM408 676.3h5V693.4h-5ZM415 693.4h5V713.6h-5ZM422 713.6h5V730.7h-5ZM442 667.2h5V669.3h-5ZM449 669.3h5V699.9h-5ZM484 650.2h5V674.8h-5ZM504 643.3h5V656.4h-5ZM579 388.4h5V403.7h-5ZM600 199.1h5V223.6h-5ZM634 174.2h5V307.5h-5ZM641 307.5h5V321.4h-5ZM668 287.1h5V329.5h-5ZM682 327.1h5V338.2h-5ZM689 338.2h5V365.6h-5ZM696 365.6h5V387.4h-5ZM702 387.4h5V457.5h-5ZM723 347.2h5V387.6h-5ZM743 256.9h5V270.2h-5ZM750 270.2h5V291.2h-5ZM757 291.2h5V305.6h-5ZM764 305.6h5V326.9h-5ZM784 274.1h5V345.4h-5ZM805 335.2h5V342.6h-5ZM812 342.6h5V351.6h-5ZM819 351.6h5V425.0h-5ZM832 391.3h5V427.8h-5ZM846 346.0h5V356.2h-5ZM853 356.2h5V364.4h-5ZM860 364.4h5V425.6h-5ZM873 369.0h5V385.6h-5ZM887 385.6h5V439.5h-5ZM901 439.6h5V455.5h-5ZM908 455.5h5V461.5h-5ZM921 423.3h5V430.5h-5ZM928 430.5h5V448.5h-5ZM962 383.8h5V392.6h-5ZM996 330.0h5V363.2h-5ZM1003 363.2h5V374.6h-5ZM1024 343.1h5V347.4h-5ZM1031 347.4h5V377.9h-5ZM1037 377.9h5V382.3h-5ZM1044 382.3h5V384.2h-5ZM1051 384.2h5V427.2h-5ZM1058 427.2h5V437.7h-5ZM1072 400.0h5V466.8h-5ZM1106 417.1h5V430.0h-5ZM1133 358.9h5V385.2h-5ZM1154 378.1h5V427.3h-5ZM1167 417.1h5V445.5h-5ZM1174 445.5h5V602.6h-5ZM1202 516.9h5V554.4h-5ZM1208 554.4h5V587.5h-5ZM1215 587.5h5V617.6h-5ZM1222 617.6h5V630.9h-5ZM1249 557.1h5V583.6h-5ZM1256 583.6h5V604.6h-5ZM1291 502.1h5V506.2h-5ZM1297 506.2h5V517.1h-5ZM1304 517.1h5V537.5h-5ZM1311 537.5h5V578.2h-5ZM1325 551.0h5V553.4h-5ZM1338 544.9h5V624.4h-5ZM1345 624.4h5V662.7h-5ZM1359 611.8h5V660.1h-5ZM1373 622.1h5V632.5h-5ZM1393 545.0h5V594.5h-5ZM1407 595.5h5V619.3h-5ZM1414 619.3h5V648.5h-5ZM1420 648.5h5V650.3h-5ZM1427 650.3h5V658.3h-5ZM1434 658.3h5V677.8h-5ZM1448 656.9h5V696.5h-5ZM1455 696.5h5V736.3h-5ZM1461 736.3h5V754.8h-5ZM1489 654.1h5V663.9h-5ZM1503 655.2h5V664.4h-5ZM1509 664.4h5V671.7h-5ZM1523 663.2h5V680.5h-5ZM1530 680.5h5V725.6h-5ZM1550 664.1h5V701.4h-5ZM1557 701.4h5V724.2h-5ZM1591 698.2h5V721.5h-5ZM1598 721.5h5V724.4h-5ZM1605 724.4h5V727.5h-5Z" fill="#f23645"/>
<path d="M1176.5 849.0V1006.8" stroke="#b4555a" stroke-width="1" fill="none"/>
<path d="M627 174h5v1.3h-5ZM1126 359h5v1.3h-5ZM1140 385h5v1.3h-5ZM1468 755h5v1.3h-5Z" fill="#557d76"/>
<path d="M73 660h5v1.3h-5ZM511 657h5v1.3h-5ZM525 638h5v1.3h-5ZM648 322h5v1.3h-5ZM791 346h5v1.3h-5ZM880 386h5v1.3h-5ZM894 440h5v1.3h-5ZM942 442h5v1.3h-5ZM1400 595h5v1.3h-5ZM1564 725h5v1.3h-5Z" fill="#876468"/>
<path d="M10 727.5H1936" stroke="#a33c46" stroke-width="1" stroke-dasharray="1 2" fill="none"/>
<path d="M991.3 304.8L1251.2 371.2M1039.1 493.3L1251.2 429.3M1176.5 440.7L1600.6 612.1M1155.3 615.4L1607.3 745.2M417.1 667.0L574.1 584.4M430.5 728.8L588.1 613.0" stroke="#4360b4" stroke-width="2" stroke-linecap="round" fill="none"/>
</g>
<g clip-path="url(#rsiclip)">
<clipPath id="above70"><rect x="10" y="1090" width="1926" height="34.5"/></clipPath>
<path d="M10.0 1138.2 L14.5 1139.1 L20.5 1140.3 L27.5 1142.3 L34.5 1141.6 L41.5 1137.0 L48.5 1133.8 L55.5 1139.8 L61.5 1144.2 L68.5 1142.3 L75.5 1142.7 L82.5 1145.0 L89.5 1148.3 L96.5 1150.7 L103.5 1147.9 L109.5 1150.9 L116.5 1133.4 L123.5 1132.5 L130.5 1125.2 L137.5 1135.6 L144.5 1126.9 L150.5 1125.3 L157.5 1128.1 L164.5 1141.0 L171.5 1141.3 L178.5 1143.4 L185.5 1138.8 L191.5 1142.3 L198.5 1144.2 L205.5 1141.6 L212.5 1139.3 L219.5 1149.2 L226.5 1146.7 L232.5 1145.9 L239.5 1148.4 L246.5 1147.7 L253.5 1151.1 L260.5 1153.4 L267.5 1160.1 L274.5 1156.9 L280.5 1156.4 L287.5 1154.7 L294.5 1149.8 L301.5 1153.4 L308.5 1160.9 L315.5 1154.5 L321.5 1152.9 L328.5 1145.3 L335.5 1141.3 L342.5 1142.6 L349.5 1145.7 L356.5 1152.1 L362.5 1155.3 L369.5 1155.9 L376.5 1153.1 L383.5 1146.4 L390.5 1152.7 L397.5 1151.5 L403.5 1152.0 L410.5 1155.8 L417.5 1159.9 L424.5 1163.1 L431.5 1149.2 L438.5 1146.4 L444.5 1146.9 L451.5 1153.6 L458.5 1150.0 L465.5 1146.2 L472.5 1144.4 L479.5 1141.8 L486.5 1148.0 L492.5 1142.5 L499.5 1140.8 L506.5 1144.3 L513.5 1144.5 L520.5 1139.8 L527.5 1140.1 L533.5 1136.3 L540.5 1129.8 L547.5 1122.0 L554.5 1115.1 L561.5 1115.0 L568.5 1112.2 L574.5 1109.2 L581.5 1113.7 L588.5 1110.8 L595.5 1104.0 L602.5 1109.1 L609.5 1109.0 L615.5 1108.5 L622.5 1107.0 L629.5 1107.0 L636.5 1132.7 L643.5 1134.7 L650.5 1134.9 L656.5 1134.0 L663.5 1131.2 L670.5 1138.3 L677.5 1138.0 L684.5 1139.9 L691.5 1144.4 L698.5 1147.7 L704.5 1156.9 L711.5 1147.4 L718.5 1142.0 L725.5 1147.2 L732.5 1145.9 L739.5 1133.6 L745.5 1135.3 L752.5 1138.2 L759.5 1140.1 L766.5 1143.0 L773.5 1137.5 L780.5 1137.3 L786.5 1146.8 L793.5 1146.9 L800.5 1145.5 L807.5 1146.5 L814.5 1147.8 L821.5 1157.1 L827.5 1152.0 L834.5 1156.2 L841.5 1145.3 L848.5 1146.6 L855.5 1147.6 L862.5 1154.8 L868.5 1147.4 L875.5 1149.4 L882.5 1149.4 L889.5 1155.6 L896.5 1155.6 L903.5 1157.4 L910.5 1158.1 L916.5 1151.7 L923.5 1152.7 L930.5 1155.1 L937.5 1153.7 L944.5 1153.9 L951.5 1149.3 L957.5 1143.4 L964.5 1145.0 L971.5 1142.7 L978.5 1139.4 L985.5 1135.7 L992.5 1134.8 L998.5 1142.1 L1005.5 1144.5 L1012.5 1141.9 L1019.5 1138.8 L1026.5 1139.8 L1033.5 1146.6 L1039.5 1147.5 L1046.5 1147.9 L1053.5 1156.5 L1060.5 1158.3 L1067.5 1149.4 L1074.5 1160.2 L1081.5 1157.1 L1087.5 1155.3 L1094.5 1150.5 L1101.5 1149.6 L1108.5 1152.0 L1115.5 1144.4 L1122.5 1138.7 L1128.5 1138.6 L1135.5 1144.3 L1142.5 1144.1 L1149.5 1142.8 L1156.5 1153.0 L1163.5 1150.7 L1169.5 1155.8 L1176.5 1173.2 L1183.5 1172.3 L1190.5 1162.0 L1197.5 1157.3 L1204.5 1161.3 L1210.5 1164.4 L1217.5 1167.1 L1224.5 1168.3 L1231.5 1163.6 L1238.5 1161.4 L1245.5 1154.8 L1251.5 1158.0 L1258.5 1160.4 L1265.5 1158.3 L1272.5 1151.0 L1279.5 1146.2 L1286.5 1143.6 L1293.5 1144.3 L1299.5 1146.1 L1306.5 1149.5 L1313.5 1155.6 L1320.5 1150.7 L1327.5 1151.1 L1334.5 1149.4 L1340.5 1160.7 L1347.5 1164.9 L1354.5 1155.7 L1361.5 1161.0 L1368.5 1154.9 L1375.5 1156.1 L1381.5 1151.5 L1388.5 1143.5 L1395.5 1149.9 L1402.5 1150.0 L1409.5 1153.0 L1416.5 1156.4 L1422.5 1156.6 L1429.5 1157.6 L1436.5 1160.0 L1443.5 1156.0 L1450.5 1160.9 L1457.5 1165.2 L1463.5 1167.1 L1470.5 1167.0 L1477.5 1159.4 L1484.5 1148.4 L1491.5 1149.8 L1498.5 1148.4 L1505.5 1149.8 L1511.5 1151.0 L1518.5 1149.4 L1525.5 1152.4 L1532.5 1159.2 L1539.5 1150.6 L1546.5 1147.6 L1552.5 1153.4 L1559.5 1156.6 L1566.5 1156.8 L1573.5 1155.7 L1580.5 1153.5 L1587.5 1150.9 L1593.5 1155.0 L1600.5 1155.5 L1607.5 1156.1 L1607.5 1124.5 L10.0 1124.5Z" fill="url(#ob)" clip-path="url(#above70)"/>
<path d="M10.0 1148.2 L49.7 1144.7 L69.6 1142.3 L109.5 1143.3 L116.5 1142.9 L123.5 1142.2 L130.5 1141.0 L137.5 1140.9 L144.5 1140.4 L150.5 1139.4 L157.5 1138.2 L164.5 1138.1 L171.5 1138.0 L178.5 1137.9 L185.5 1137.2 L191.5 1136.6 L198.5 1136.3 L205.5 1135.7 L212.5 1136.1 L219.5 1137.3 L226.5 1138.8 L232.5 1139.6 L239.5 1141.1 L246.5 1142.7 L253.5 1144.3 L260.5 1145.2 L267.5 1146.6 L274.5 1147.5 L280.5 1148.8 L287.5 1149.7 L294.5 1150.1 L301.5 1150.9 L308.5 1152.5 L315.5 1152.8 L321.5 1153.3 L328.5 1153.2 L335.5 1152.7 L342.5 1152.4 L349.5 1152.0 L356.5 1151.9 L362.5 1151.6 L369.5 1151.5 L376.5 1151.3 L383.5 1150.7 L390.5 1150.9 L397.5 1150.7 L403.5 1150.1 L410.5 1150.2 L417.5 1150.7 L424.5 1152.0 L431.5 1152.5 L438.5 1152.8 L444.5 1152.9 L451.5 1153.0 L458.5 1152.6 L465.5 1151.9 L472.5 1151.3 L479.5 1151.0 L486.5 1150.6 L492.5 1150.0 L499.5 1149.2 L506.5 1148.3 L513.5 1147.2 L520.5 1145.6 L527.5 1144.9 L533.5 1144.2 L540.5 1143.0 L547.5 1140.7 L554.5 1138.2 L561.5 1136.0 L568.5 1133.7 L574.5 1131.4 L581.5 1128.9 L588.5 1126.7 L595.5 1124.0 L602.5 1121.5 L609.5 1119.0 L615.5 1116.8 L622.5 1114.4 L629.5 1112.3 L636.5 1112.5 L643.5 1113.4 L650.5 1114.8 L656.5 1116.2 L663.5 1117.6 L670.5 1119.6 L677.5 1121.4 L684.5 1123.5 L691.5 1126.3 L698.5 1129.1 L704.5 1132.5 L711.5 1135.3 L718.5 1137.8 L725.5 1140.7 L732.5 1141.6 L739.5 1141.5 L745.5 1141.6 L752.5 1141.9 L759.5 1142.5 L766.5 1142.8 L773.5 1142.8 L780.5 1142.6 L786.5 1142.8 L793.5 1142.7 L800.5 1141.9 L807.5 1141.8 L814.5 1142.3 L821.5 1143.0 L827.5 1143.4 L834.5 1145.0 L841.5 1145.7 L848.5 1146.3 L855.5 1146.9 L862.5 1147.7 L868.5 1148.4 L875.5 1149.3 L882.5 1149.5 L889.5 1150.1 L896.5 1150.8 L903.5 1151.6 L910.5 1152.3 L916.5 1151.9 L923.5 1152.0 L930.5 1151.9 L937.5 1152.5 L944.5 1153.0 L951.5 1153.1 L957.5 1152.3 L964.5 1152.2 L971.5 1151.7 L978.5 1151.0 L985.5 1149.5 L992.5 1148.1 L998.5 1147.0 L1005.5 1146.0 L1012.5 1145.3 L1019.5 1144.3 L1026.5 1143.2 L1033.5 1142.7 L1039.5 1142.2 L1046.5 1142.1 L1053.5 1143.1 L1060.5 1144.0 L1067.5 1144.5 L1074.5 1146.0 L1081.5 1147.5 L1087.5 1149.0 L1094.5 1149.6 L1101.5 1149.9 L1108.5 1150.7 L1115.5 1151.1 L1122.5 1151.0 L1128.5 1150.4 L1135.5 1150.2 L1142.5 1149.9 L1149.5 1148.9 L1156.5 1148.6 L1163.5 1148.7 L1169.5 1148.3 L1176.5 1149.5 L1183.5 1150.7 L1190.5 1151.5 L1197.5 1152.1 L1204.5 1152.7 L1210.5 1154.2 L1217.5 1156.2 L1224.5 1158.3 L1231.5 1159.7 L1238.5 1160.9 L1245.5 1161.8 L1251.5 1162.2 L1258.5 1162.8 L1265.5 1163.0 L1272.5 1161.4 L1279.5 1159.6 L1286.5 1158.3 L1293.5 1157.3 L1299.5 1156.3 L1306.5 1155.2 L1313.5 1154.4 L1320.5 1153.1 L1327.5 1152.2 L1334.5 1151.4 L1340.5 1151.8 L1347.5 1152.3 L1354.5 1151.9 L1361.5 1152.1 L1368.5 1152.4 L1375.5 1153.1 L1381.5 1153.7 L1388.5 1153.6 L1395.5 1153.9 L1402.5 1153.9 L1409.5 1153.7 L1416.5 1154.1 L1422.5 1154.5 L1429.5 1155.1 L1436.5 1155.1 L1443.5 1154.4 L1450.5 1154.8 L1457.5 1155.1 L1463.5 1156.0 L1470.5 1156.8 L1477.5 1157.3 L1484.5 1157.7 L1491.5 1157.7 L1498.5 1157.6 L1505.5 1157.3 L1511.5 1157.0 L1518.5 1156.4 L1525.5 1156.1 L1532.5 1156.0 L1539.5 1155.6 L1546.5 1154.7 L1552.5 1153.8 L1559.5 1153.1 L1566.5 1152.3 L1573.5 1152.1 L1580.5 1152.4 L1587.5 1152.5 L1593.5 1153.0 L1600.5 1153.4 L1607.5 1153.7" stroke="#f2e399" stroke-width="1.8" fill="none" stroke-linejoin="round"/>
<path d="M10.0 1138.2 L14.5 1139.1 L20.5 1140.3 L27.5 1142.3 L34.5 1141.6 L41.5 1137.0 L48.5 1133.8 L55.5 1139.8 L61.5 1144.2 L68.5 1142.3 L75.5 1142.7 L82.5 1145.0 L89.5 1148.3 L96.5 1150.7 L103.5 1147.9 L109.5 1150.9 L116.5 1133.4 L123.5 1132.5 L130.5 1125.2 L137.5 1135.6 L144.5 1126.9 L150.5 1125.3 L157.5 1128.1 L164.5 1141.0 L171.5 1141.3 L178.5 1143.4 L185.5 1138.8 L191.5 1142.3 L198.5 1144.2 L205.5 1141.6 L212.5 1139.3 L219.5 1149.2 L226.5 1146.7 L232.5 1145.9 L239.5 1148.4 L246.5 1147.7 L253.5 1151.1 L260.5 1153.4 L267.5 1160.1 L274.5 1156.9 L280.5 1156.4 L287.5 1154.7 L294.5 1149.8 L301.5 1153.4 L308.5 1160.9 L315.5 1154.5 L321.5 1152.9 L328.5 1145.3 L335.5 1141.3 L342.5 1142.6 L349.5 1145.7 L356.5 1152.1 L362.5 1155.3 L369.5 1155.9 L376.5 1153.1 L383.5 1146.4 L390.5 1152.7 L397.5 1151.5 L403.5 1152.0 L410.5 1155.8 L417.5 1159.9 L424.5 1163.1 L431.5 1149.2 L438.5 1146.4 L444.5 1146.9 L451.5 1153.6 L458.5 1150.0 L465.5 1146.2 L472.5 1144.4 L479.5 1141.8 L486.5 1148.0 L492.5 1142.5 L499.5 1140.8 L506.5 1144.3 L513.5 1144.5 L520.5 1139.8 L527.5 1140.1 L533.5 1136.3 L540.5 1129.8 L547.5 1122.0 L554.5 1115.1 L561.5 1115.0 L568.5 1112.2 L574.5 1109.2 L581.5 1113.7 L588.5 1110.8 L595.5 1104.0 L602.5 1109.1 L609.5 1109.0 L615.5 1108.5 L622.5 1107.0 L629.5 1107.0 L636.5 1132.7 L643.5 1134.7 L650.5 1134.9 L656.5 1134.0 L663.5 1131.2 L670.5 1138.3 L677.5 1138.0 L684.5 1139.9 L691.5 1144.4 L698.5 1147.7 L704.5 1156.9 L711.5 1147.4 L718.5 1142.0 L725.5 1147.2 L732.5 1145.9 L739.5 1133.6 L745.5 1135.3 L752.5 1138.2 L759.5 1140.1 L766.5 1143.0 L773.5 1137.5 L780.5 1137.3 L786.5 1146.8 L793.5 1146.9 L800.5 1145.5 L807.5 1146.5 L814.5 1147.8 L821.5 1157.1 L827.5 1152.0 L834.5 1156.2 L841.5 1145.3 L848.5 1146.6 L855.5 1147.6 L862.5 1154.8 L868.5 1147.4 L875.5 1149.4 L882.5 1149.4 L889.5 1155.6 L896.5 1155.6 L903.5 1157.4 L910.5 1158.1 L916.5 1151.7 L923.5 1152.7 L930.5 1155.1 L937.5 1153.7 L944.5 1153.9 L951.5 1149.3 L957.5 1143.4 L964.5 1145.0 L971.5 1142.7 L978.5 1139.4 L985.5 1135.7 L992.5 1134.8 L998.5 1142.1 L1005.5 1144.5 L1012.5 1141.9 L1019.5 1138.8 L1026.5 1139.8 L1033.5 1146.6 L1039.5 1147.5 L1046.5 1147.9 L1053.5 1156.5 L1060.5 1158.3 L1067.5 1149.4 L1074.5 1160.2 L1081.5 1157.1 L1087.5 1155.3 L1094.5 1150.5 L1101.5 1149.6 L1108.5 1152.0 L1115.5 1144.4 L1122.5 1138.7 L1128.5 1138.6 L1135.5 1144.3 L1142.5 1144.1 L1149.5 1142.8 L1156.5 1153.0 L1163.5 1150.7 L1169.5 1155.8 L1176.5 1173.2 L1183.5 1172.3 L1190.5 1162.0 L1197.5 1157.3 L1204.5 1161.3 L1210.5 1164.4 L1217.5 1167.1 L1224.5 1168.3 L1231.5 1163.6 L1238.5 1161.4 L1245.5 1154.8 L1251.5 1158.0 L1258.5 1160.4 L1265.5 1158.3 L1272.5 1151.0 L1279.5 1146.2 L1286.5 1143.6 L1293.5 1144.3 L1299.5 1146.1 L1306.5 1149.5 L1313.5 1155.6 L1320.5 1150.7 L1327.5 1151.1 L1334.5 1149.4 L1340.5 1160.7 L1347.5 1164.9 L1354.5 1155.7 L1361.5 1161.0 L1368.5 1154.9 L1375.5 1156.1 L1381.5 1151.5 L1388.5 1143.5 L1395.5 1149.9 L1402.5 1150.0 L1409.5 1153.0 L1416.5 1156.4 L1422.5 1156.6 L1429.5 1157.6 L1436.5 1160.0 L1443.5 1156.0 L1450.5 1160.9 L1457.5 1165.2 L1463.5 1167.1 L1470.5 1167.0 L1477.5 1159.4 L1484.5 1148.4 L1491.5 1149.8 L1498.5 1148.4 L1505.5 1149.8 L1511.5 1151.0 L1518.5 1149.4 L1525.5 1152.4 L1532.5 1159.2 L1539.5 1150.6 L1546.5 1147.6 L1552.5 1153.4 L1559.5 1156.6 L1566.5 1156.8 L1573.5 1155.7 L1580.5 1153.5 L1587.5 1150.9 L1593.5 1155.0 L1600.5 1155.5 L1607.5 1156.1" stroke="#7460aa" stroke-width="1.1" fill="none" stroke-linejoin="round"/>
</g>
<rect x="1939" y="561.3" width="49" height="16" rx="2" fill="#000000"/>
<text x="1947.2" y="574.0" font-size="12.6" fill="#ffffff" stroke="#ffffff" stroke-width="0.28" textLength="35.2" lengthAdjust="spacingAndGlyphs">2.4609</text>
<rect x="1939" y="581.4" width="49" height="16.2" rx="2" fill="#f7931a"/>
<text x="1947.2" y="594.2" font-size="12.6" fill="#131722" stroke="#131722" stroke-width="0.28" textLength="35.2" lengthAdjust="spacingAndGlyphs">2.4054</text>
<rect x="1939" y="637.2" width="49" height="16.2" rx="2" fill="#5b9cf6"/>
<text x="1947.2" y="650.0" font-size="12.6" fill="#131722" stroke="#131722" stroke-width="0.28" textLength="35.2" lengthAdjust="spacingAndGlyphs">2.2516</text>
<rect x="1939" y="681.2" width="49" height="16.4" rx="2" fill="#0a7d12"/>
<text x="1947.2" y="694.1" font-size="12.6" fill="#e8f5e9" stroke="#e8f5e9" stroke-width="0.28" textLength="35.2" lengthAdjust="spacingAndGlyphs">2.1305</text>
<rect x="1881" y="719.2" width="56.6" height="16.3" rx="2" fill="#f23645"/>
<text x="1885" y="731.8" font-size="12.2" fill="#ffffff" stroke="#ffffff" stroke-width="0.28" textLength="48.9" lengthAdjust="spacingAndGlyphs">XRPUSDT</text>
<rect x="1939" y="719.2" width="59.5" height="30.3" rx="2" fill="#f23645"/>
<text x="1947.2" y="731.4" font-size="12.6" fill="#ffffff" stroke="#ffffff" stroke-width="0.28" textLength="35.2" lengthAdjust="spacingAndGlyphs">2.0262</text>
<text x="1947.2" y="745.4" font-size="12.4" fill="#ffffff" stroke="#ffffff" stroke-width="0.28" textLength="46" lengthAdjust="spacingAndGlyphs">14:19:46</text>
<rect x="1939" y="1077" width="53" height="15.6" rx="2" fill="#f0444f"/>
<text x="1947.5" y="1089.4" font-size="12.2" fill="#ffffff" stroke="#ffffff" stroke-width="0.28" font-weight="bold" textLength="40.6" lengthAdjust="spacingAndGlyphs">16.23M</text>
<rect x="1939" y="1131" width="43" height="16.5" rx="2" fill="#f7e43c"/>
<text x="1947.2" y="1144.1" font-size="12.6" fill="#131722" stroke="#131722" stroke-width="0.28" textLength="29.2" lengthAdjust="spacingAndGlyphs">43.68</text>
<rect x="1939" y="1147.5" width="43" height="17.3" rx="2" fill="#7e57c2"/>
<text x="1947.2" y="1160.6" font-size="12.6" fill="#ffffff" stroke="#ffffff" stroke-width="0.28" textLength="29.2" lengthAdjust="spacingAndGlyphs">41.68</text>
<text x="18" y="45.8" font-size="12.6" fill="#131722" stroke="#131722" stroke-width="0.28" textLength="160.7" lengthAdjust="spacingAndGlyphs">XRP / TetherUS · 1D · Binance</text>
<text x="186.2" y="45.8" font-size="12.6" fill="#131722" stroke="#131722" stroke-width="0.28" textLength="43.8" lengthAdjust="spacingAndGlyphs">O<tspan fill="#dd5a64" stroke="#dd5a64" stroke-width="0.28">2.0340</tspan></text>
<text x="237.7" y="45.8" font-size="12.6" fill="#131722" stroke="#131722" stroke-width="0.28" textLength="43.1" lengthAdjust="spacingAndGlyphs">H<tspan fill="#dd5a64" stroke="#dd5a64" stroke-width="0.28">2.0434</tspan></text>
<text x="288.5" y="45.8" font-size="12.6" fill="#131722" stroke="#131722" stroke-width="0.28" textLength="40.8" lengthAdjust="spacingAndGlyphs">L<tspan fill="#dd5a64" stroke="#dd5a64" stroke-width="0.28">2.0157</tspan></text>
<text x="337.8" y="45.8" font-size="12.6" fill="#131722" stroke="#131722" stroke-width="0.28" textLength="42.3" lengthAdjust="spacingAndGlyphs">C<tspan fill="#dd5a64" stroke="#dd5a64" stroke-width="0.28">2.0262</tspan></text>
<text x="388.6" y="45.8" font-size="12.6" fill="#dd5a64" stroke="#dd5a64" stroke-width="0.28" textLength="90" lengthAdjust="spacingAndGlyphs">−0.0078 (−0.38%)</text>
<text x="58.3" y="1198.8" font-size="11.8" fill="#131722" stroke="#131722" stroke-width="0.28" textLength="20.4" lengthAdjust="spacingAndGlyphs">May</text>
<text x="271.1" y="1198.8" font-size="11.8" fill="#131722" stroke="#131722" stroke-width="0.28" textLength="18.9" lengthAdjust="spacingAndGlyphs">Jun</text>
<text x="479.1" y="1198.8" font-size="11.8" fill="#131722" stroke="#131722" stroke-width="0.28" textLength="14.9" lengthAdjust="spacingAndGlyphs">Jul</text>
<text x="688.5" y="1198.8" font-size="11.8" fill="#131722" stroke="#131722" stroke-width="0.28" textLength="19.9" lengthAdjust="spacingAndGlyphs">Aug</text>
<text x="900.5" y="1198.8" font-size="11.8" fill="#131722" stroke="#131722" stroke-width="0.28" textLength="19.9" lengthAdjust="spacingAndGlyphs">Sep</text>
<text x="1106.2" y="1198.8" font-size="11.8" fill="#131722" stroke="#131722" stroke-width="0.28" textLength="18.6" lengthAdjust="spacingAndGlyphs">Oct</text>
<text x="1317.5" y="1198.8" font-size="11.8" fill="#131722" stroke="#131722" stroke-width="0.28" textLength="20.1" lengthAdjust="spacingAndGlyphs">Nov</text>
<text x="1522.7" y="1198.8" font-size="11.8" fill="#131722" stroke="#131722" stroke-width="0.28" textLength="19.6" lengthAdjust="spacingAndGlyphs">Dec</text>
<text x="1730.9" y="1198.8" font-size="11.8" fill="#131722" stroke="#131722" stroke-width="0.28" font-weight="bold" textLength="27.2" lengthAdjust="spacingAndGlyphs">2026</text>
<rect x="9.7" y="27" width="1994.1" height="1182.2" fill="none" stroke="#ebebeb" stroke-width="1.5"/>
<g fill="#131722"><path d="M11.9 1231.1H23.8V1245.5H17.9V1237.1H11.9Z"/><circle cx="29.3" cy="1233.6" r="2.6"/><path d="M34.3 1231.1H41.3L36.7 1245.5H29.4Z"/></g>
<text x="49.2" y="1245.5" font-size="20.5" font-weight="bold" fill="#131722" textLength="120.6" lengthAdjust="spacingAndGlyphs">TradingView</text>
</svg>
</body></html>
